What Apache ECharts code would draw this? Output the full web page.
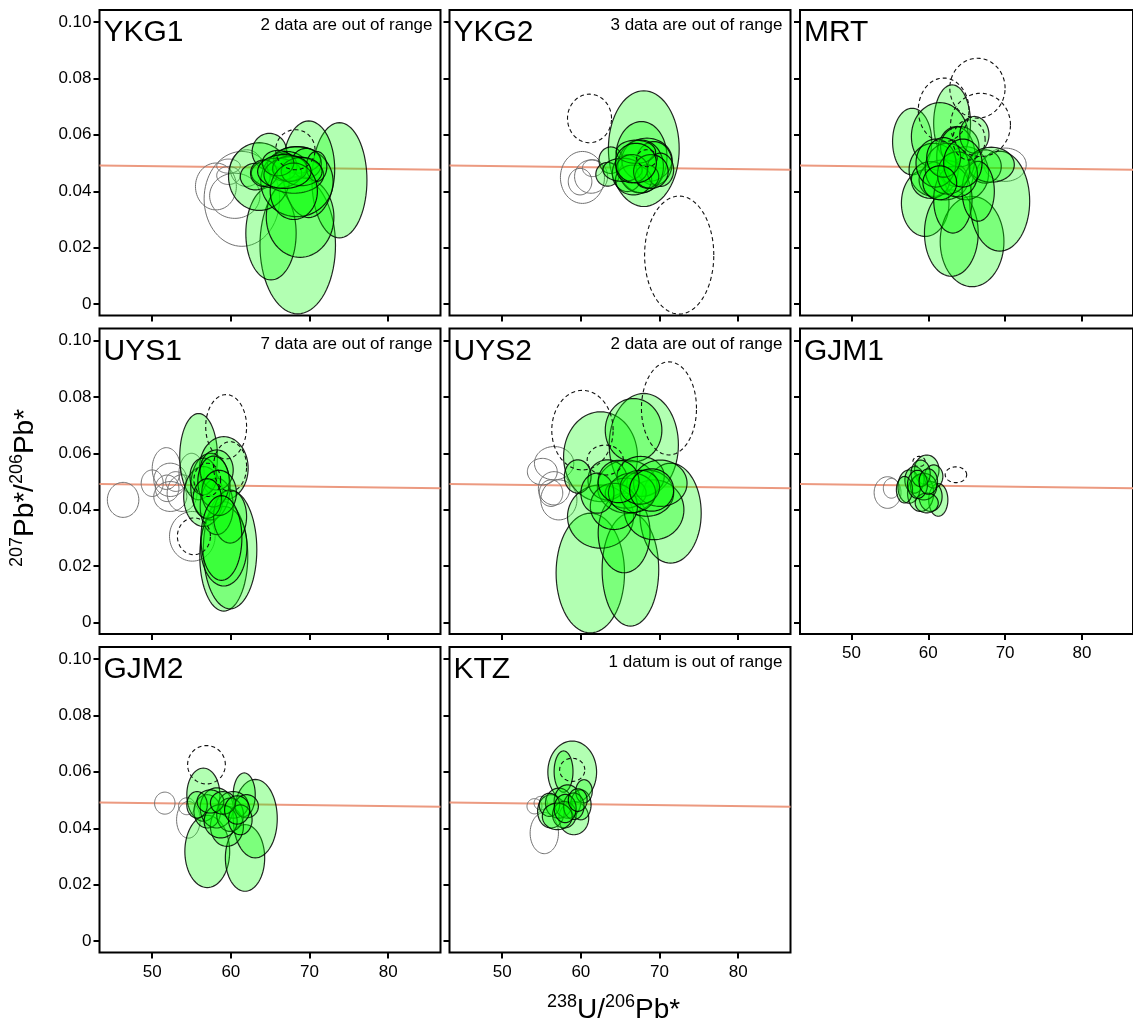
<!DOCTYPE html>
<html>
<head>
<meta charset="utf-8">
<title>Tera-Wasserburg panels</title>
<script src="https://cdn.jsdelivr.net/npm/echarts@6/dist/echarts.min.js"></script>
<style>
  html, body { margin: 0; padding: 0; background: #fff; }
  #chart { width: 1133px; height: 1018px; }
</style>
</head>
<body>
<div id="chart"></div>
<script>
// each ellipse row: [x centre, y centre, x half-axis, y half-axis] in data units
const panelNames = ['YKG1', 'YKG2', 'MRT', 'UYS1', 'UYS2', 'GJM1', 'GJM2', 'KTZ'];
const panelNotes = ['2 data are out of range', '3 data are out of range', '',
  '7 data are out of range', '2 data are out of range', '', '', '1 datum is out of range'];

const xTicks = [50, 60, 70, 80];
const yTicks = [0, 0.02, 0.04, 0.06, 0.08, 0.10];

// reference curve drawn across every panel
const refLineX = [43.3, 86.65];
const refLineY = [0.0491, 0.0476];

const YKG1_open = [
  [58.1, 0.0417, 2.6, 0.0083], [61.4, 0.0373, 4.8, 0.0168], [60.5, 0.0384, 3.2, 0.0080],
  [59.7, 0.0489, 1.5, 0.0025], [59.7, 0.0456, 1.5, 0.0032], [62.0, 0.0482, 2.1, 0.0065]
];
const YKG1_fill = [
  [68.5, 0.0209, 4.8, 0.0243], [65.1, 0.0251, 3.2, 0.0165], [73.8, 0.0439, 3.5, 0.0204],
  [68.8, 0.0309, 4.3, 0.0143], [69.9, 0.0478, 3.3, 0.0171], [63.6, 0.0452, 3.9, 0.0120],
  [64.9, 0.0540, 2.2, 0.0065], [63.1, 0.0452, 1.9, 0.0047], [68.4, 0.0434, 4.6, 0.0124],
  [68.4, 0.0511, 3.0, 0.0047], [67.1, 0.0488, 2.5, 0.0053], [69.6, 0.0499, 1.9, 0.0053],
  [66.9, 0.0488, 1.5, 0.0047], [65.8, 0.0464, 3.2, 0.0053], [64.2, 0.0464, 1.7, 0.0047],
  [68.0, 0.0458, 3.8, 0.0065], [70.9, 0.0488, 1.3, 0.0053], [67.5, 0.0480, 2.2, 0.0045],
  [69.0, 0.0470, 2.6, 0.0050], [66.0, 0.0500, 2.0, 0.0045], [68.0, 0.0400, 3.0, 0.0100],
  [66.8, 0.0470, 3.4, 0.0060]
];
const YKG1_dash = [[68.2, 0.0547, 2.5, 0.0071]];

const YKG2_open = [
  [60.2, 0.0449, 2.8, 0.0092], [59.9, 0.0434, 1.5, 0.0047], [61.5, 0.0482, 1.3, 0.0030],
  [61.3, 0.0452, 2.1, 0.0059]
];
const YKG2_fill = [
  [68.0, 0.0551, 4.5, 0.0205], [67.7, 0.0521, 3.25, 0.0126], [63.8, 0.0510, 1.5, 0.0047],
  [63.4, 0.0460, 1.5, 0.0042], [65.9, 0.0464, 1.9, 0.0065], [68.4, 0.0511, 3.2, 0.0077],
  [69.3, 0.0499, 2.3, 0.0077], [67.6, 0.0488, 2.9, 0.0094], [66.7, 0.0440, 2.3, 0.0053],
  [70.1, 0.0476, 1.7, 0.0059], [65.3, 0.0476, 2.5, 0.0041], [68.4, 0.0452, 1.5, 0.0041],
  [67.0, 0.0540, 2.5, 0.0041], [66.5, 0.0480, 2.0, 0.0050], [68.9, 0.0470, 2.2, 0.0060],
  [67.0, 0.0500, 2.6, 0.0070]
];
const YKG2_dash = [[61.1, 0.0658, 2.8, 0.0086], [72.5, 0.0174, 4.4, 0.0209], [68.4, 0.0517, 1.3, 0.0030]];

const MRT_open = [[70.0, 0.0494, 2.75, 0.0059]];
const MRT_fill = [
  [57.9, 0.0576, 2.55, 0.0118], [63.1, 0.0641, 2.4, 0.0136], [61.5, 0.0594, 3.7, 0.0120],
  [59.6, 0.0358, 3.1, 0.0118], [65.7, 0.0222, 4.15, 0.0160], [63.0, 0.0252, 3.5, 0.0153],
  [69.3, 0.0365, 3.9, 0.0177], [64.9, 0.0464, 2.95, 0.0094], [60.7, 0.0476, 3.2, 0.0094],
  [67.4, 0.0488, 2.1, 0.0059], [62.0, 0.0440, 3.2, 0.0071], [63.6, 0.0523, 2.5, 0.0106],
  [60.3, 0.0440, 2.5, 0.0065], [64.1, 0.0558, 2.5, 0.0071], [66.0, 0.0600, 1.9, 0.0065],
  [63.2, 0.0370, 2.5, 0.0118], [68.2, 0.0494, 3.0, 0.0062], [66.5, 0.0400, 2.1, 0.0106],
  [62.5, 0.0480, 2.9, 0.0090], [61.0, 0.0500, 2.6, 0.0085], [63.8, 0.0460, 2.6, 0.0080],
  [62.0, 0.0520, 2.2, 0.0070], [64.5, 0.0500, 2.5, 0.0085], [61.5, 0.0430, 2.2, 0.0060]
];
const MRT_dash = [
  [66.4, 0.0765, 3.6, 0.0106], [62.0, 0.0688, 3.3, 0.0113], [66.8, 0.0635, 3.9, 0.0112],
  [65.3, 0.0582, 2.1, 0.0071]
];

const UYS1_open = [
  [46.3, 0.0435, 2.0, 0.0062], [50.0, 0.0494, 1.4, 0.0047], [51.8, 0.0546, 1.8, 0.0074],
  [52.3, 0.0506, 2.1, 0.0059], [51.9, 0.0476, 1.5, 0.0047], [52.3, 0.0447, 2.1, 0.0053],
  [53.8, 0.0459, 1.9, 0.0065], [55.1, 0.0306, 2.9, 0.0088], [53.0, 0.0500, 1.3, 0.0035],
  [55.0, 0.0530, 1.6, 0.0070]
];
const UYS1_fill = [
  [55.9, 0.0588, 2.4, 0.0153], [59.1, 0.0547, 3.1, 0.0112], [59.1, 0.0235, 3.05, 0.0194],
  [59.9, 0.0259, 3.4, 0.0210], [59.1, 0.0271, 2.95, 0.0141], [56.5, 0.0447, 2.5, 0.0106],
  [57.4, 0.0482, 2.5, 0.0118], [58.2, 0.0412, 2.1, 0.0100], [56.5, 0.0518, 1.7, 0.0065],
  [58.2, 0.0541, 2.1, 0.0071], [59.9, 0.0376, 2.1, 0.0094], [57.8, 0.0500, 2.0, 0.0090],
  [58.5, 0.0460, 2.2, 0.0080], [57.0, 0.0440, 1.8, 0.0070], [58.8, 0.0300, 2.6, 0.0150]
];
const UYS1_dash = [
  [59.4, 0.0694, 2.6, 0.0114], [55.3, 0.0306, 2.1, 0.0065], [59.9, 0.0553, 2.1, 0.0088],
  [57.0, 0.0506, 1.7, 0.0059]
];

const UYS2_open = [
  [55.1, 0.0535, 1.9, 0.0047], [56.6, 0.0476, 2.0, 0.0059], [57.2, 0.0435, 2.3, 0.0071],
  [56.6, 0.0565, 2.5, 0.0059], [56.2, 0.0459, 1.5, 0.0047]
];
const UYS2_fill = [
  [61.2, 0.0176, 4.35, 0.0212], [66.3, 0.0188, 3.6, 0.0200], [62.5, 0.0588, 4.7, 0.0159],
  [68.0, 0.0630, 4.4, 0.0182], [66.7, 0.0682, 3.6, 0.0112], [71.4, 0.0388, 3.9, 0.0177],
  [62.5, 0.0376, 4.2, 0.0112], [65.5, 0.0318, 3.3, 0.0141], [69.3, 0.0400, 3.8, 0.0106],
  [65.9, 0.0482, 3.8, 0.0094], [63.4, 0.0506, 2.5, 0.0071], [59.6, 0.0518, 1.7, 0.0059],
  [67.6, 0.0518, 3.0, 0.0071], [65.7, 0.0459, 2.6, 0.0053], [68.4, 0.0459, 3.4, 0.0082],
  [70.1, 0.0494, 3.4, 0.0082], [64.2, 0.0412, 3.0, 0.0082], [62.1, 0.0459, 2.1, 0.0071],
  [66.5, 0.0460, 3.0, 0.0070], [67.5, 0.0480, 2.5, 0.0060], [64.8, 0.0500, 2.6, 0.0075],
  [69.0, 0.0470, 2.8, 0.0075]
];
const UYS2_dash = [[60.2, 0.0682, 3.9, 0.0141], [71.2, 0.0759, 3.5, 0.0165], [63.1, 0.0576, 2.3, 0.0053]];

const GJM1_open = [[54.7, 0.0461, 1.75, 0.0056], [55.2, 0.0476, 1.05, 0.0035]];
const GJM1_fill = [
  [59.8, 0.0541, 1.6, 0.0053], [61.3, 0.0435, 1.25, 0.0058], [57.5, 0.0482, 1.45, 0.0059],
  [59.0, 0.0459, 1.7, 0.0065], [60.3, 0.0447, 1.5, 0.0053], [60.7, 0.0518, 1.2, 0.0041],
  [58.2, 0.0506, 1.25, 0.0047], [59.4, 0.0482, 1.7, 0.0047], [56.9, 0.0471, 1.05, 0.0047],
  [59.8, 0.0424, 1.5, 0.0035], [59.0, 0.0529, 1.25, 0.0047], [58.6, 0.0490, 1.3, 0.0050],
  [60.0, 0.0500, 1.2, 0.0045]
];
const GJM1_dash = [[63.6, 0.0524, 1.4, 0.0028], [58.8, 0.0571, 0.8, 0.0018]];

const GJM2_open = [[51.6, 0.0489, 1.3, 0.0039], [54.6, 0.0430, 1.5, 0.0065], [54.4, 0.0478, 1.05, 0.0030]];
const GJM2_fill = [
  [57.0, 0.0318, 2.85, 0.0128], [61.8, 0.0295, 2.5, 0.0118], [63.1, 0.0434, 2.8, 0.0139],
  [56.5, 0.0519, 2.1, 0.0094], [61.7, 0.0519, 1.4, 0.0077], [59.5, 0.0407, 2.1, 0.0071],
  [57.0, 0.0460, 1.7, 0.0059], [58.2, 0.0472, 2.1, 0.0071], [60.3, 0.0483, 1.9, 0.0047],
  [59.9, 0.0448, 1.7, 0.0059], [62.0, 0.0478, 1.5, 0.0041], [55.7, 0.0483, 1.3, 0.0047],
  [58.7, 0.0425, 2.1, 0.0059], [61.2, 0.0430, 1.5, 0.0053], [57.4, 0.0495, 1.7, 0.0041],
  [59.0, 0.0490, 1.6, 0.0040], [60.8, 0.0465, 1.6, 0.0050]
];
const GJM2_dash = [[56.9, 0.0625, 2.4, 0.0068]];

const KTZ_open = [[55.35, 0.0383, 1.8, 0.0073], [54.1, 0.0478, 0.95, 0.0027], [54.9, 0.0489, 0.85, 0.0024]];
const KTZ_fill = [
  [58.9, 0.0599, 3.1, 0.0110], [57.8, 0.0601, 1.2, 0.0073], [59.1, 0.0436, 1.9, 0.0059],
  [56.2, 0.0460, 1.7, 0.0059], [57.2, 0.0489, 1.7, 0.0053], [58.3, 0.0495, 1.7, 0.0059],
  [60.0, 0.0483, 1.3, 0.0053], [60.4, 0.0531, 1.05, 0.0041], [56.0, 0.0483, 1.3, 0.0041],
  [57.9, 0.0448, 1.5, 0.0047], [59.1, 0.0478, 1.3, 0.0047], [57.0, 0.0442, 1.9, 0.0047],
  [58.0, 0.0470, 1.4, 0.0050], [59.6, 0.0500, 1.2, 0.0040]
];
const KTZ_dash = [[58.9, 0.0607, 1.6, 0.0041]];

const panelOpen = [YKG1_open, YKG2_open, MRT_open, UYS1_open, UYS2_open, GJM1_open, GJM2_open, KTZ_open];
const panelFill = [YKG1_fill, YKG2_fill, MRT_fill, UYS1_fill, UYS2_fill, GJM1_fill, GJM2_fill, KTZ_fill];
const panelDash = [YKG1_dash, YKG2_dash, MRT_dash, UYS1_dash, UYS2_dash, GJM1_dash, GJM2_dash, KTZ_dash];

const FONT = '"Liberation Sans", Arial, sans-serif';
const colLeft = [99.5, 449.5, 800];
const rowTop = [10, 328.5, 647];
const gridW = 341, gridH = 305.5;

// polygon traced through the axis scales
function ellipseItem(style) {
  return function (params, api) {
    const cx = api.value(0), cy = api.value(1), rx = api.value(2), ry = api.value(3);
    const pts = [];
    for (let k = 0; k < 72; k++) {
      const t = k / 72 * Math.PI * 2;
      pts.push(api.coord([cx + rx * Math.cos(t), cy + ry * Math.sin(t)]));
    }
    return { type: 'polygon', shape: { points: pts }, style: style };
  };
}

const openStyle = { fill: 'none', stroke: '#707070', lineWidth: 1 };
const fillStyle = { fill: 'rgba(0,255,0,0.3)', stroke: 'rgba(0,0,0,0.85)', lineWidth: 1.2 };
const dashStyle = { fill: 'none', stroke: '#111', lineWidth: 1.1, lineDash: [4, 3] };

const grids = [], xAxes = [], yAxes = [], series = [], graphics = [];

panelNames.forEach(function (name, i) {
  const row = Math.floor(i / 3), col = i % 3;
  const showX = (i === 5 || i === 6 || i === 7);
  const showY = col === 0;
  grids.push({
    left: colLeft[col], top: rowTop[row], width: gridW, height: gridH,
    show: true, borderColor: '#000', borderWidth: 2, backgroundColor: 'transparent'
  });
  xAxes.push({
    gridIndex: i, type: 'value', min: 43.3, max: 86.65, position: 'bottom',
    axisLine: { show: false, onZero: false }, splitLine: { show: false },
    axisTick: { show: true, inside: false, length: 6, lineStyle: { color: '#000', width: 2 }, customValues: xTicks },
    axisLabel: { show: showX, customValues: xTicks, fontSize: 17, color: '#000', fontFamily: FONT, margin: 11 }
  });
  yAxes.push({
    gridIndex: i, type: 'value', min: -0.004, max: 0.1042, position: 'left',
    axisLine: { show: false, onZero: false }, splitLine: { show: false },
    axisTick: { show: true, inside: false, length: 6, lineStyle: { color: '#000', width: 2 }, customValues: yTicks },
    axisLabel: {
      show: showY, customValues: yTicks, fontSize: 17, color: '#000', fontFamily: FONT, margin: 8,
      formatter: function (v) { return v === 0 ? '0' : v.toFixed(2); }
    }
  });
  series.push({
    type: 'line', xAxisIndex: i, yAxisIndex: i, symbol: 'none', silent: true, z: 1,
    lineStyle: { color: '#ec9a80', width: 2 },
    data: refLineX.map(function (x, k) { return [x, refLineY[k]]; })
  });
  [[panelOpen[i], openStyle, 2], [panelFill[i], fillStyle, 3], [panelDash[i], dashStyle, 4]].forEach(function (s) {
    series.push({
      type: 'custom', xAxisIndex: i, yAxisIndex: i, clip: true, silent: true, z: s[2],
      renderItem: ellipseItem(s[1]), data: s[0]
    });
  });
  graphics.push({
    type: 'text', x: colLeft[col] + 4, y: rowTop[row] + 23,
    style: { text: name, fill: '#000', font: '30px ' + FONT, align: 'left', verticalAlign: 'middle' }
  });
  if (panelNotes[i]) {
    graphics.push({
      type: 'text', x: colLeft[col] + 333, y: rowTop[row] + 15.5,
      style: { text: panelNotes[i], fill: '#000', font: '17px ' + FONT, align: 'right', verticalAlign: 'middle' }
    });
  }
});

const supRich = { sup: { fontSize: 18, fontFamily: FONT, verticalAlign: 'top', lineHeight: 18, fill: '#000' } };
graphics.push({
  type: 'text', x: 613.5, y: 1010.5,
  style: {
    text: '{sup|238}U/{sup|206}Pb*', rich: supRich, fontSize: 28, fontFamily: FONT, lineHeight: 34,
    fill: '#000', align: 'center', verticalAlign: 'middle'
  }
});
graphics.push({
  type: 'text', x: 25, y: 488, rotation: Math.PI / 2,
  style: {
    text: '{sup|207}Pb*/{sup|206}Pb*', rich: supRich, fontSize: 28, fontFamily: FONT, lineHeight: 34,
    fill: '#000', align: 'center', verticalAlign: 'middle'
  }
});

const chart = echarts.init(document.getElementById('chart'));
chart.setOption({
  animation: false,
  backgroundColor: '#fff',
  grid: grids,
  xAxis: xAxes,
  yAxis: yAxes,
  series: series,
  graphic: graphics
});
</script>
</body>
</html>
